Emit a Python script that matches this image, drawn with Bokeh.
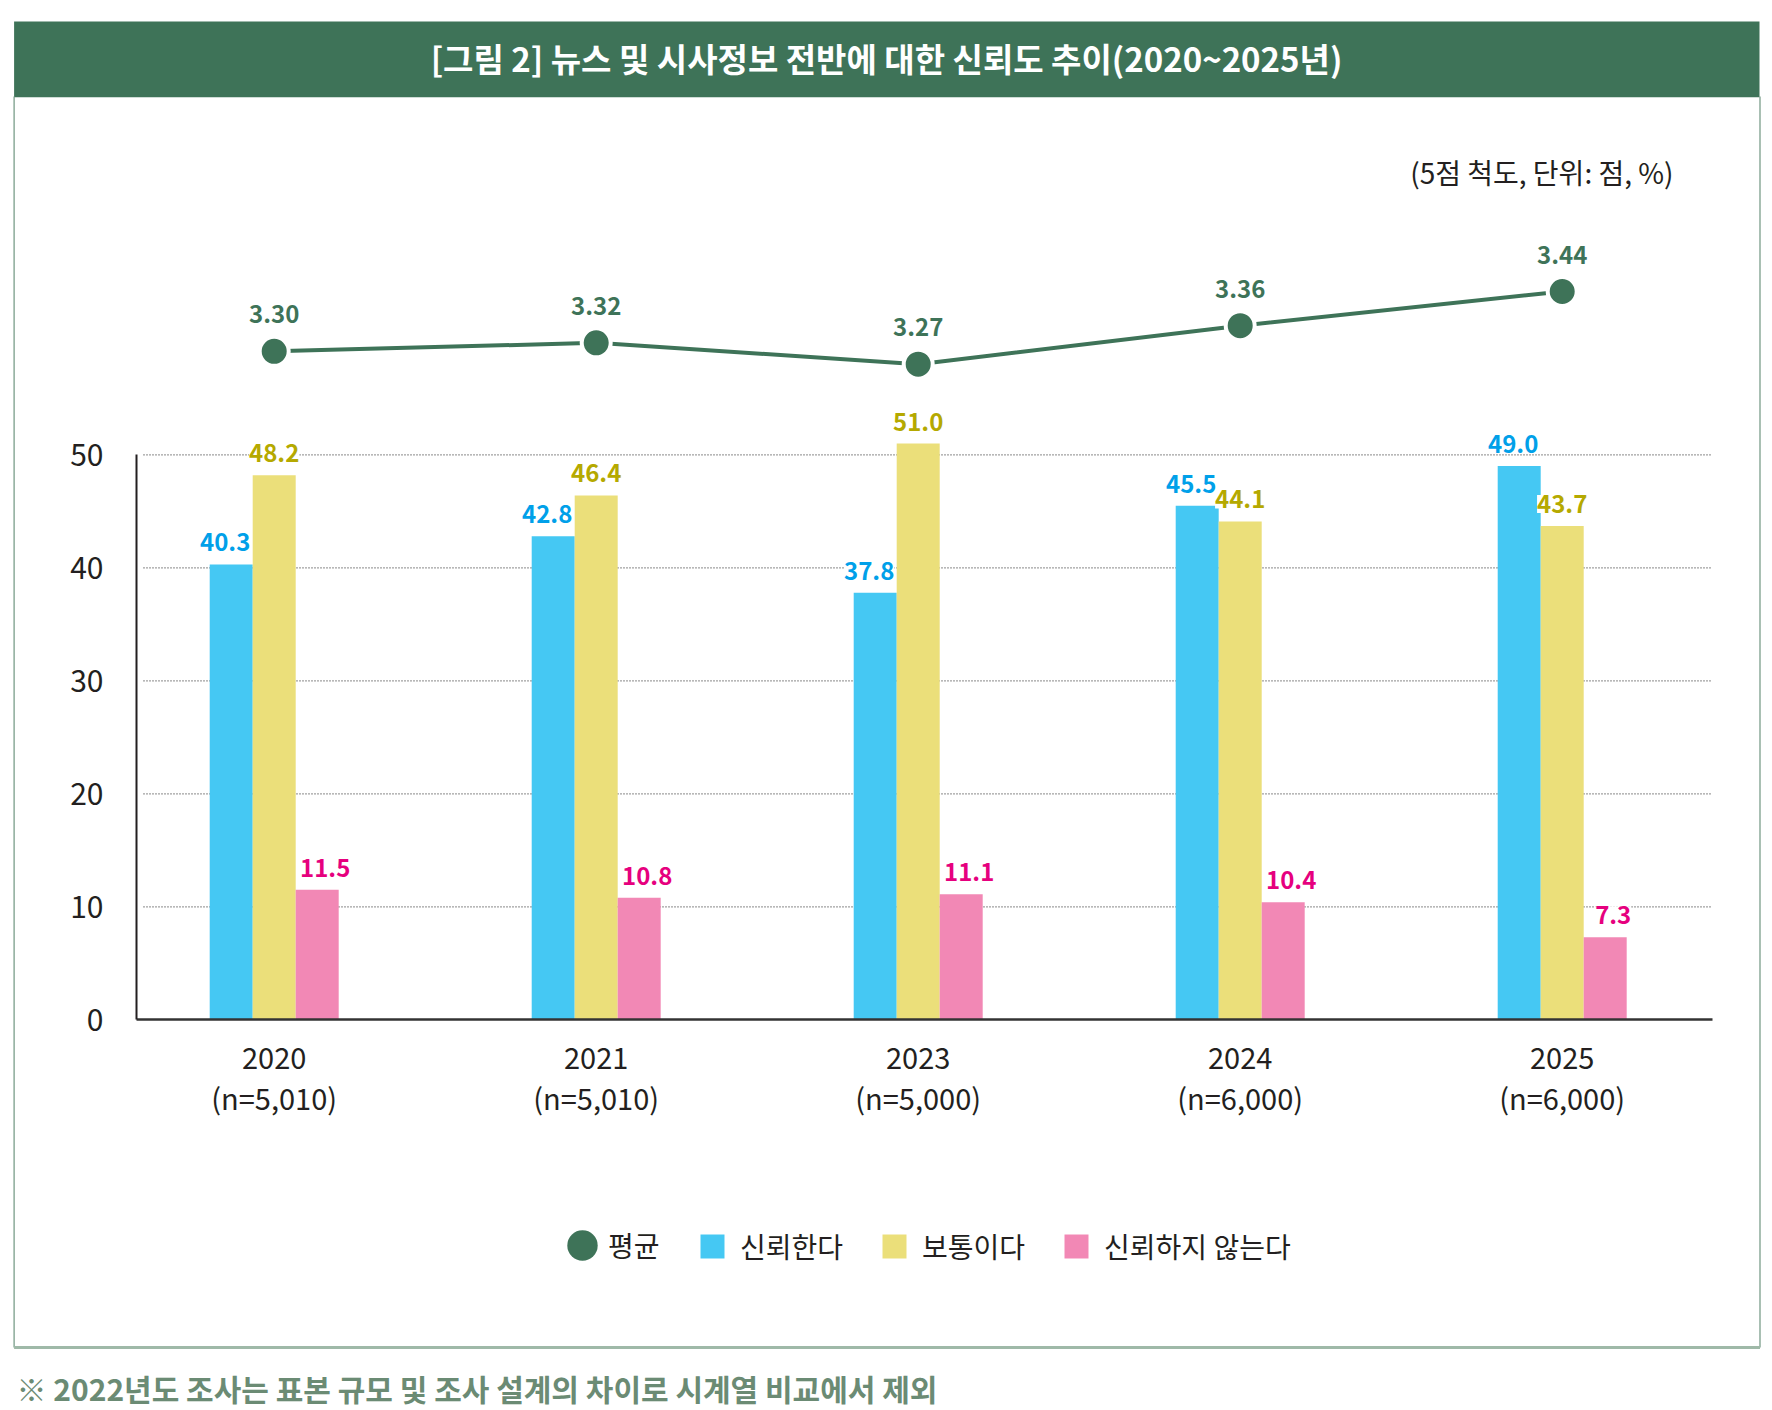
from bokeh.plotting import figure
from bokeh.models import (Range1d, LinearAxis, FixedTicker, Legend, LegendItem,
                          LabelSet, Label, ColumnDataSource)
from bokeh.core.properties import value
from bokeh.embed import file_html
from bokeh.resources import INLINE

# data
years = ["2020", "2021", "2023", "2024", "2025"]
samples = ["n=5,010", "n=5,010", "n=5,000", "n=6,000", "n=6,000"]
avg_score = [3.30, 3.32, 3.27, 3.36, 3.44]
trust = [40.3, 42.8, 37.8, 45.5, 49.0]
neutral = [48.2, 46.4, 51.0, 44.1, 43.7]
distrust = [11.5, 10.8, 11.1, 10.4, 7.3]
y_ticks = [0, 10, 20, 30, 40, 50]
series_names = ["평균", "신뢰한다", "보통이다", "신뢰하지 않는다"]

TITLE = "[그림 2] 뉴스 및 시사정보 전반에 대한 신뢰도 추이(2020~2025년)"
UNIT = "(5점 척도, 단위: 점, %)"
NOTE = "※ 2022년도 조사는 표본 규모 및 조사 설계의 차이로 시계열 비교에서 제외"

FONT = "Noto Sans CJK KR"
GREEN = "#3e7358"
BLUE = "#45c8f3"
YELLOW = "#ebdf7a"
PINK = "#f288b5"
DARK = "#231f20"

W, H = 1772, 1410
# pixel layout of the plotting area (canvas coords)
x_first, x_step = 273.7, 322.0      # centre of first group, group spacing
y_zero, y_unit = 1019.3, 11.3       # y=0 line, px per percent

idx = list(range(len(years)))
bw = 43 / x_step

p = figure(width=W, height=H, output_backend="svg", toolbar_location=None,
           title=None, x_axis_location=None, y_axis_location=None,
           x_range=Range1d(-x_first / x_step, (W - x_first) / x_step),
           y_range=Range1d(-(H - y_zero) / y_unit, y_zero / y_unit),
           min_border=0, min_border_left=0, min_border_right=0,
           min_border_top=0, min_border_bottom=0,
           outline_line_color=None, background_fill_color="white",
           border_fill_color="white")
p.grid.visible = False

# average score on its own scale, plus a pixel range for the decorations
p.extra_y_ranges = {"avg": Range1d(0.8226, 4.1207), "py": Range1d(H, 0)}
p.extra_x_ranges = {"px": Range1d(0, W)}

# frame: title bar + box
p.quad(left=[13.6], right=[1759], top=[21], bottom=[96.7], x_range_name="px",
       y_range_name="py", fill_color=GREEN, line_color=None)
p.multi_line(xs=[[13.6, 13.6], [1759.5, 1759.5]], ys=[[96, 1347], [96, 1347]],
             x_range_name="px", y_range_name="py", line_color="#6f9580", line_width=1.2)
p.segment(x0=[13.6], x1=[1759.5], y0=[1347], y1=[1347], x_range_name="px",
          y_range_name="py", line_color="#9fb9a8", line_width=3)

p.add_layout(Label(x=886, y=57, x_range_name="px", y_range_name="py", text=TITLE,
                   text_align="center", text_baseline="middle", text_color="white",
                   text_font=FONT, text_font_size="33px", text_font_style="bold"))
p.add_layout(Label(x=1673, y=171, x_range_name="px", y_range_name="py", text=UNIT,
                   text_align="right", text_baseline="middle", text_color=DARK,
                   text_font=FONT, text_font_size="28px"))
p.add_layout(Label(x=16, y=1387, x_range_name="px", y_range_name="py", text=NOTE,
                   text_align="left", text_baseline="middle", text_color="#6b8b74",
                   text_font=FONT, text_font_size="30px", text_font_style="bold"))

# dotted gridlines
ax_left = (136 - x_first) / x_step
ax_right = (1712 - x_first) / x_step
g_left = (143 - x_first) / x_step
g_right = (1710 - x_first) / x_step
grid_y = y_ticks[1:]
p.segment(x0=[g_left] * len(grid_y), x1=[g_right] * len(grid_y), y0=grid_y, y1=grid_y,
          line_color="#444444", line_width=1.3, line_dash="1 2")

# bars
r_trust = p.vbar(x=[i - bw for i in idx], top=trust, width=bw, fill_color=BLUE, line_color=None)
r_neutral = p.vbar(x=idx, top=neutral, width=bw, fill_color=YELLOW, line_color=None)
r_distrust = p.vbar(x=[i + bw for i in idx], top=distrust, width=bw, fill_color=PINK, line_color=None)

# average line
r_ell = p.ellipse(x=idx, y=avg_score, width=24, height=24, width_units="screen",
                  height_units="screen", y_range_name="avg", fill_color=GREEN, line_color=None)
p.line(x=idx, y=avg_score, y_range_name="avg", line_color=GREEN, line_width=4)
p.scatter(x=idx, y=avg_score, y_range_name="avg", size=29, fill_color=GREEN,
          line_color="white", line_width=4)

# value labels
def bar_labels(vals, off, px_off, color):
    src = ColumnDataSource(dict(x=[i + off for i in idx], y=vals,
                                t=[f"{v:.1f}" for v in vals]))
    p.add_layout(LabelSet(x="x", y="y", text="t", source=src, x_offset=px_off, y_offset=22,
                          text_align="center", text_baseline="middle", text_color=color,
                          text_font=value(FONT), text_font_size="24px",
                          text_font_style="bold", background_fill_color="white"))

bar_labels(trust, -bw, -6, "#00a0e9")
bar_labels(neutral, 0, 0, "#b5a900")
bar_labels(distrust, bw, 8, "#e6007e")

avg_src = ColumnDataSource(dict(x=idx, y=avg_score, t=[f"{v:.2f}" for v in avg_score]))
p.add_layout(LabelSet(x="x", y="y", text="t", source=avg_src, y_range_name="avg",
                      y_offset=37, text_align="center", text_baseline="middle",
                      text_color=GREEN, text_font=value(FONT), text_font_size="24px",
                      text_font_style="bold"))

# axes
yax = LinearAxis(fixed_location=ax_left, bounds=(0, 50), ticker=FixedTicker(ticks=y_ticks),
                 axis_line_color=DARK, axis_line_width=2, major_tick_line_color=None,
                 minor_tick_line_color=None, major_tick_out=0, major_tick_in=0,
                 major_label_standoff=33, major_label_text_font=FONT,
                 major_label_text_font_size="30px", major_label_text_color=DARK)
p.add_layout(yax, "left")

xax = LinearAxis(fixed_location=0, bounds=(ax_left, ax_right), ticker=FixedTicker(ticks=idx),
                 major_label_overrides={i: y for i, y in zip(idx, years)},
                 axis_line_color="#333333", axis_line_width=2.5, major_tick_line_color=None,
                 minor_tick_line_color=None, major_tick_out=0, major_tick_in=0,
                 major_label_standoff=28, major_label_text_font=FONT,
                 major_label_text_font_size="29px", major_label_text_color=DARK)
p.add_layout(xax, "below")

nax = LinearAxis(fixed_location=0, ticker=FixedTicker(ticks=idx),
                 major_label_overrides={i: f"({s})" for i, s in zip(idx, samples)},
                 axis_line_color=None, major_tick_line_color=None,
                 minor_tick_line_color=None, major_tick_out=0, major_tick_in=0,
                 major_label_standoff=56, major_label_text_font=FONT,
                 major_label_text_font_size="29px", major_label_text_color=DARK)
p.add_layout(nax, "below")

# legends
leg_avg = Legend(items=[LegendItem(label=series_names[0], renderers=[r_ell])],
                 orientation="horizontal", location=(563, 145), glyph_width=38,
                 glyph_height=38, label_standoff=7, padding=0, margin=0,
                 border_line_color=None, background_fill_alpha=0,
                 label_text_font=FONT, label_text_font_size="28px", label_text_color=DARK)
leg_bars = Legend(items=[LegendItem(label=series_names[1], renderers=[r_trust]),
                         LegendItem(label=series_names[2], renderers=[r_neutral]),
                         LegendItem(label=series_names[3], renderers=[r_distrust])],
                  orientation="horizontal", location=(697, 144), glyph_width=30,
                  glyph_height=30, label_standoff=13, spacing=36, padding=0, margin=0,
                  border_line_color=None, background_fill_alpha=0,
                  label_text_font=FONT, label_text_font_size="28px", label_text_color=DARK)
p.add_layout(leg_avg)
p.add_layout(leg_bars)

open("out.html", "w").write(file_html(p, INLINE, title="뉴스 신뢰도 추이"))
